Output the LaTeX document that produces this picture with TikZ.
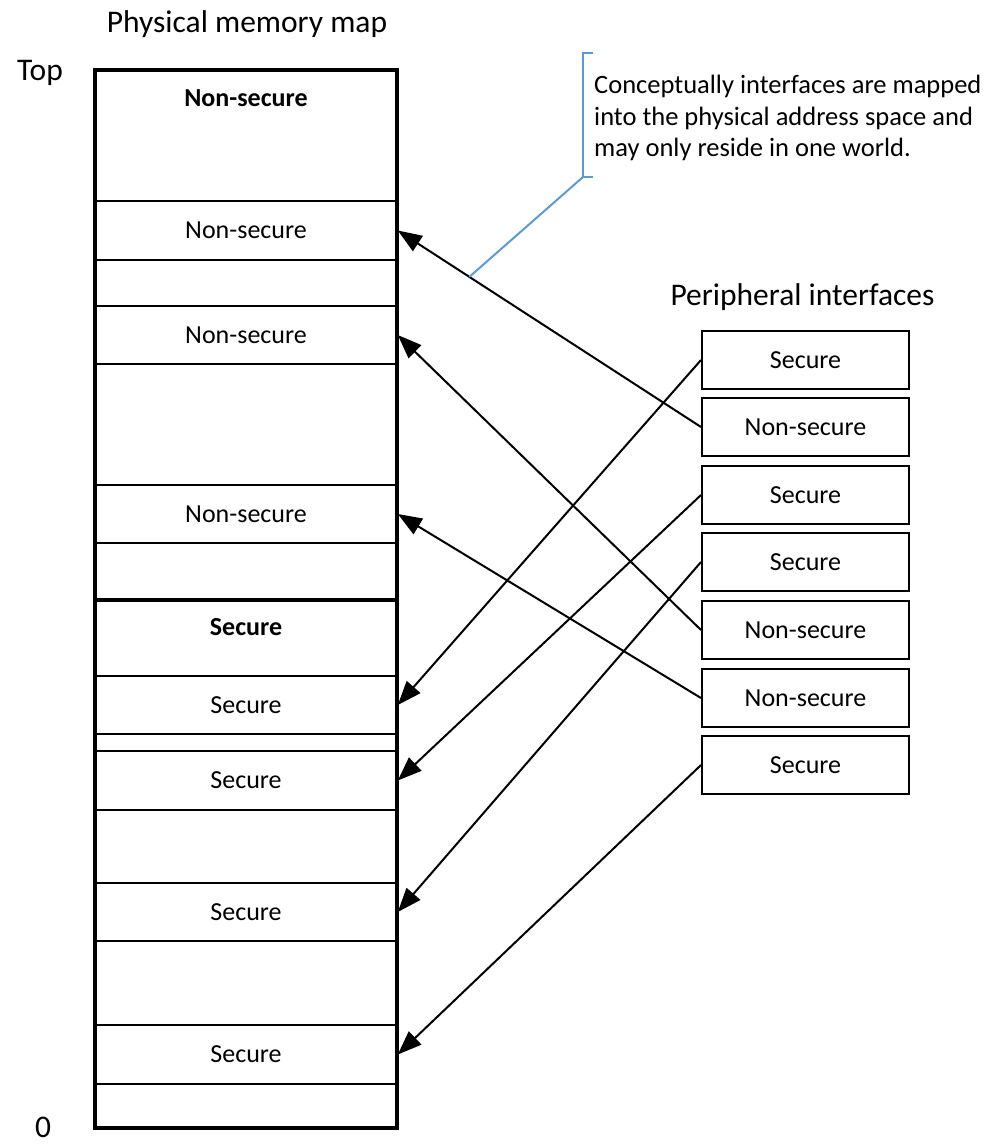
\documentclass[tikz,border=0pt]{standalone}
\usepackage{fontspec}
\setmainfont{Carlito}
\usetikzlibrary{arrows.meta,calc}
\definecolor{callblue}{RGB}{91,155,213}

\begin{document}
\begin{tikzpicture}[x=1pt,y=-1pt,
  boxtext/.style={font=\fontsize{26}{31}\selectfont},
  row/.style={draw,line width=1.6pt,minimum width=302pt,inner sep=0pt,boxtext},
  region/.style={draw,line width=3.5pt,minimum width=302pt,inner sep=0pt},
  pbox/.style={draw,line width=2pt,minimum width=207pt,minimum height=58pt,inner sep=0pt,boxtext},
  link/.style={line width=2pt,-{Triangle[length=24pt,width=18pt]}},
  heading/.style={font=\fontsize{31.5}{37}\selectfont,inner sep=0pt,anchor=base},
  callout/.style={callblue,line width=2pt},
]
\useasboundingbox (0,0) rectangle (993,1144);

% headings and address labels
\node[heading] (maptitle) at (247,32) {Physical memory map};
\node[heading] (pertitle) at (802.5,305) {Peripheral interfaces};
\node[heading] (toplabel) at (40,80) {Top};
\node[heading] (zerolabel) at (43,1137) {0};

% rows of the memory map
\node[row,minimum height=59pt] (ns1) at (246,230.5) {Non-secure};
\node[row,minimum height=58pt] (ns2) at (246,335) {Non-secure};
\node[row,minimum height=58pt] (ns3) at (246,514) {Non-secure};
\node[row,minimum height=58pt] (s1) at (246,705) {Secure};
\node[row,minimum height=59pt] (s2) at (246,780.5) {Secure};
\node[row,minimum height=58pt] (s3) at (246,912) {Secure};
\node[row,minimum height=59pt] (s4) at (246,1054.5) {Secure};

% the two worlds, with heavy outlines
\node[region,minimum height=530pt] (nsmap) at (246,335) {};
\node[region,minimum height=528pt] (smap) at (246,864) {};
\node[boxtext,inner sep=0pt] (nshead) at (246,98) {\textbf{Non-secure}};
\node[boxtext,inner sep=0pt] (shead) at (246,627) {\textbf{Secure}};

% peripheral interfaces
\node[pbox] (p1) at (805.5,360) {Secure};
\node[pbox] (p2) at (805.5,427) {Non-secure};
\node[pbox] (p3) at (805.5,495) {Secure};
\node[pbox] (p4) at (805.5,562) {Secure};
\node[pbox] (p5) at (805.5,630) {Non-secure};
\node[pbox] (p6) at (805.5,698) {Non-secure};
\node[pbox] (p7) at (805.5,765) {Secure};

% mappings
\draw[link] (p2.west) -- (ns1.east);
\draw[link] (p5.west) -- (ns2.east);
\draw[link] (p6.west) -- (ns3.east);
\draw[link] (p1.west) -- (s1.east);
\draw[link] (p3.west) -- (s2.east);
\draw[link] (p4.west) -- (s3.east);
\draw[link] (p7.west) -- (s4.east);

% callout
\coordinate (cfoot) at ($(p2.west)!0.764!(ns1.east)$);
\coordinate (cbot) at (583,177);
\coordinate (ctop) at (583,53);
\draw[callout] (cfoot) -- (cbot);
\draw[callout] ($(ctop)+(10,0)$) -- (ctop) -- (cbot) -- ($(cbot)+(10,0)$);
\node[font=\fontsize{26.5}{31.8}\selectfont,anchor=west,align=left,inner sep=0pt] (note) at (594,118)
  {Conceptually interfaces are mapped\\into the physical address space and\\may only reside in one world.};
\end{tikzpicture}
\end{document}
